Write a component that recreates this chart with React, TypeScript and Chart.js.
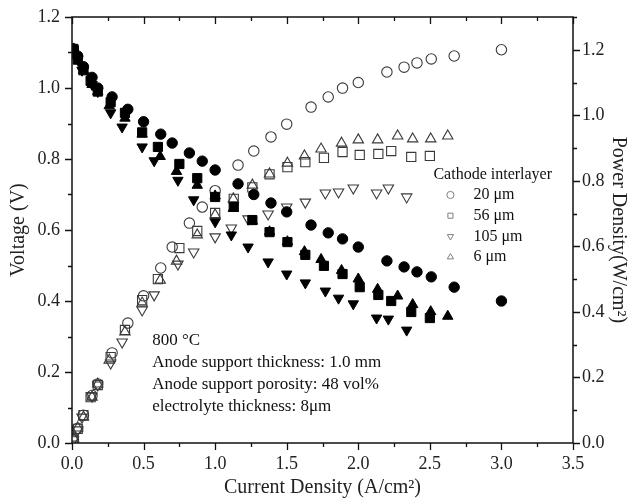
import React, { useEffect, useRef } from 'react';
import { Chart, registerables } from 'chart.js';
import { drawPoint } from 'chart.js/helpers';

Chart.register(...registerables);

const FONT = '"Liberation Serif", "Times New Roman", Times, serif';

// ---- Data ----
const seriesNames = ['20 μm', '56 μm', '105 μm', '6 μm'];
const legendTitle = 'Cathode interlayer';
const annotationLines = [
  '800 °C',
  'Anode support thickness: 1.0 mm',
  'Anode support porosity: 48 vol%',
  'electrolyte thickness: 8μm',
];
const xTickValues = [0, 0.5, 1.0, 1.5, 2.0, 2.5, 3.0, 3.5];

// 20 μm
const x20 = [0.01, 0.04, 0.08, 0.14, 0.18, 0.28, 0.39, 0.50, 0.62, 0.70, 0.82, 0.91, 1.00, 1.16, 1.27, 1.39, 1.50, 1.67, 1.79, 1.89, 2.00, 2.20, 2.32, 2.41, 2.51, 2.67, 3.00];
const v20 = [1.11, 1.09, 1.06, 1.03, 1.00, 0.975, 0.94, 0.905, 0.87, 0.845, 0.817, 0.794, 0.769, 0.73, 0.70, 0.676, 0.651, 0.614, 0.592, 0.575, 0.552, 0.513, 0.496, 0.482, 0.468, 0.439, 0.40];
const p20 = [0.01, 0.045, 0.085, 0.145, 0.18, 0.275, 0.366, 0.449, 0.534, 0.598, 0.671, 0.72, 0.77, 0.848, 0.891, 0.934, 0.973, 1.025, 1.056, 1.083, 1.10, 1.132, 1.147, 1.16, 1.172, 1.181, 1.20];

// 56 μm
const x56 = [0.01, 0.04, 0.08, 0.13, 0.18, 0.27, 0.37, 0.49, 0.60, 0.75, 0.875, 1.00, 1.13, 1.26, 1.38, 1.505, 1.63, 1.76, 1.89, 2.01, 2.14, 2.23, 2.37, 2.50];
const v56 = [1.11, 1.08, 1.05, 1.02, 0.99, 0.96, 0.93, 0.875, 0.834, 0.786, 0.746, 0.693, 0.665, 0.628, 0.594, 0.566, 0.53, 0.499, 0.476, 0.439, 0.417, 0.40, 0.369, 0.352];
const p56 = [0.01, 0.043, 0.085, 0.14, 0.177, 0.262, 0.345, 0.436, 0.50, 0.595, 0.647, 0.702, 0.745, 0.78, 0.82, 0.842, 0.857, 0.87, 0.888, 0.879, 0.882, 0.891, 0.873, 0.876];

// 105 μm
const x105 = [0.01, 0.04, 0.07, 0.14, 0.18, 0.27, 0.35, 0.49, 0.574, 0.74, 0.85, 1.00, 1.113, 1.23, 1.37, 1.50, 1.63, 1.77, 1.862, 1.965, 2.128, 2.21, 2.338];
const v105 = [1.11, 1.08, 1.05, 1.01, 0.99, 0.93, 0.89, 0.834, 0.795, 0.74, 0.685, 0.623, 0.586, 0.552, 0.51, 0.476, 0.451, 0.428, 0.408, 0.392, 0.352, 0.349, 0.318];
const p105 = [0.01, 0.04, 0.079, 0.143, 0.177, 0.244, 0.308, 0.406, 0.452, 0.546, 0.583, 0.629, 0.656, 0.684, 0.699, 0.72, 0.735, 0.763, 0.766, 0.778, 0.763, 0.778, 0.751];

// 6 μm
const x6 = [0.01, 0.04, 0.08, 0.14, 0.18, 0.26, 0.37, 0.49, 0.616, 0.73, 0.875, 1.00, 1.127, 1.26, 1.38, 1.505, 1.624, 1.74, 1.883, 2.00, 2.135, 2.275, 2.38, 2.506, 2.625];
const v6 = [1.11, 1.09, 1.05, 1.01, 0.99, 0.95, 0.915, 0.87, 0.807, 0.765, 0.726, 0.696, 0.661, 0.625, 0.595, 0.567, 0.539, 0.517, 0.486, 0.462, 0.433, 0.414, 0.39, 0.37, 0.357];
const p6 = [0.015, 0.046, 0.079, 0.14, 0.18, 0.253, 0.339, 0.427, 0.497, 0.555, 0.635, 0.696, 0.745, 0.787, 0.821, 0.854, 0.876, 0.897, 0.915, 0.925, 0.925, 0.937, 0.928, 0.928, 0.937];

const seriesX = [x20, x56, x105, x6];
const seriesV = [v20, v56, v105, v6];
const seriesP = [p20, p56, p105, p6];

// ---- styles ----
const pointStyles = ['circle', 'rect', 'triangle', 'triangle'];
const rotations = [0, 0, 180, 0];
const radii = [5.2, 6.5, 6, 6];
const openColor = '#3a3a3a';
const legendColor = '#808080';

const toPts = (xs: number[], ys: number[]) => xs.map((x, i) => ({ x, y: ys[i] }));

const decorPlugin = {
  id: 'decor',
  afterDraw(chart: any) {
    const ctx = chart.ctx;
    const { left, right, top, bottom } = chart.chartArea;
    const xs = chart.scales.x;
    const ys = chart.scales.y;
    const ys2 = chart.scales.y2;
    ctx.save();
    ctx.strokeStyle = '#111';
    ctx.lineWidth = 1.5;
    ctx.strokeRect(left, top, right - left, bottom - top);
    ctx.lineWidth = 1.3;
    ctx.beginPath();
    for (let i = 0; i <= 14; i++) {
      const px = Math.round(xs.getPixelForValue(i * 0.25)) + 0.5;
      const len = i % 2 === 0 ? 7 : 4;
      ctx.moveTo(px, bottom);
      ctx.lineTo(px, bottom + len);
      ctx.moveTo(px, top);
      ctx.lineTo(px, top + len);
    }
    for (let i = 0; i <= 12; i++) {
      const py = Math.round(ys.getPixelForValue(i * 0.1)) + 0.5;
      const len = i % 2 === 0 ? 7 : 4;
      ctx.moveTo(left, py);
      ctx.lineTo(left - len, py);
    }
    for (let i = 0; i <= 13; i++) {
      const py = Math.round(ys2.getPixelForValue(i * 0.1)) + 0.5;
      const len = i % 2 === 0 ? 7 : 4;
      ctx.moveTo(right, py);
      ctx.lineTo(right + len, py);
    }
    ctx.stroke();

    // annotation text
    ctx.fillStyle = '#111';
    ctx.font = `17px ${FONT}`;
    ctx.textAlign = 'left';
    ctx.textBaseline = 'middle';
    const ax = xs.getPixelForValue(0.56);
    const ay = ys.getPixelForValue(0.29);
    annotationLines.forEach((t, i) => ctx.fillText(t, ax, ay + i * 22));

    // legend
    const lx = xs.getPixelForValue(2.525);
    const ly = ys.getPixelForValue(0.755);
    ctx.font = `16px ${FONT}`;
    ctx.fillText(legendTitle, lx, ly);
    seriesNames.forEach((name, i) => {
      const yy = ly + 20 + i * 20.7;
      ctx.strokeStyle = legendColor;
      ctx.fillStyle = 'rgba(0,0,0,0)';
      ctx.lineWidth = 1;
      drawPoint(ctx, { pointStyle: pointStyles[i], rotation: rotations[i], radius: 3.6, borderWidth: 1 }, lx + 17, yy);
      ctx.fillStyle = '#111';
      ctx.fillText(name, lx + 40, yy);
    });
    ctx.restore();
  },
};

export default function App() {
  const ref = useRef<HTMLCanvasElement>(null);
  useEffect(() => {
    if (!ref.current) return;
    const filled = seriesNames.map((name, i) => ({
      label: name + ' V',
      data: toPts(seriesX[i], seriesV[i]),
      yAxisID: 'y',
      showLine: false,
      pointStyle: pointStyles[i],
      rotation: rotations[i],
      pointRadius: radii[i],
      pointBackgroundColor: '#000',
      pointBorderColor: '#000',
      pointBorderWidth: 1,
    }));
    const open = seriesNames.map((name, i) => ({
      label: name,
      data: toPts(seriesX[i], seriesP[i]),
      yAxisID: 'y2',
      showLine: false,
      pointStyle: pointStyles[i],
      rotation: rotations[i],
      pointRadius: radii[i],
      pointBackgroundColor: 'rgba(0,0,0,0)',
      pointBorderColor: openColor,
      pointBorderWidth: 1.1,
    }));
    const tickFont = { family: FONT, size: 18 };
    const titleFont = { family: FONT, size: 20 };
    const fitV = (w: number) => (s: any) => { s.width = w; s.paddingTop = 0; s.paddingBottom = 0; };
    const chart = new Chart(ref.current, {
      type: 'scatter',
      data: { datasets: [...filled, ...open] as any },
      plugins: [decorPlugin],
      options: {
        animation: false,
        responsive: false,
        devicePixelRatio: 1,
        layout: { padding: { top: 17, left: 0, right: 0, bottom: 0 } },
        plugins: { legend: { display: false }, tooltip: { enabled: false } },
        scales: {
          x: {
            type: 'linear',
            min: 0,
            max: 3.5,
            afterBuildTicks: (s: any) => { s.ticks = xTickValues.map((v) => ({ value: v })); },
            ticks: { font: tickFont, color: '#222', padding: 10, callback: (v: any) => Number(v).toFixed(1) },
            grid: { display: false, drawTicks: false },
            border: { display: false },
            title: { display: true, text: 'Current Density (A/cm²)', font: titleFont, color: '#222', padding: { top: 0, bottom: 2 } },
            afterFit: (s: any) => { s.height = 59; s.paddingLeft = 0; s.paddingRight = 0; },
          },
          y: {
            type: 'linear',
            position: 'left',
            min: 0,
            max: 1.2,
            ticks: { stepSize: 0.2, font: tickFont, color: '#222', padding: 12, callback: (v: any) => Number(v).toFixed(1) },
            grid: { display: false, drawTicks: false },
            border: { display: false },
            title: { display: true, text: 'Voltage (V)', font: titleFont, color: '#222', padding: { top: 7, bottom: 0 } },
            afterFit: fitV(72),
          },
          y2: {
            type: 'linear',
            position: 'right',
            min: 0,
            max: 1.3,
            ticks: { stepSize: 0.2, includeBounds: false, font: tickFont, color: '#222', padding: 9, callback: (v: any) => Number(v).toFixed(1) },
            grid: { display: false, drawTicks: false },
            border: { display: false },
            title: { display: true, text: 'Power Density(W/cm²)', font: titleFont, color: '#222', padding: { top: 2, bottom: 0 } },
            afterFit: fitV(59),
          },
        },
      } as any,
    });
    return () => chart.destroy();
  }, []);
  return (
    <div style={{ position: 'absolute', left: 0, top: 0, width: 632, height: 502, background: '#fff' }}>
      <canvas ref={ref} width={632} height={502} />
    </div>
  );
}
